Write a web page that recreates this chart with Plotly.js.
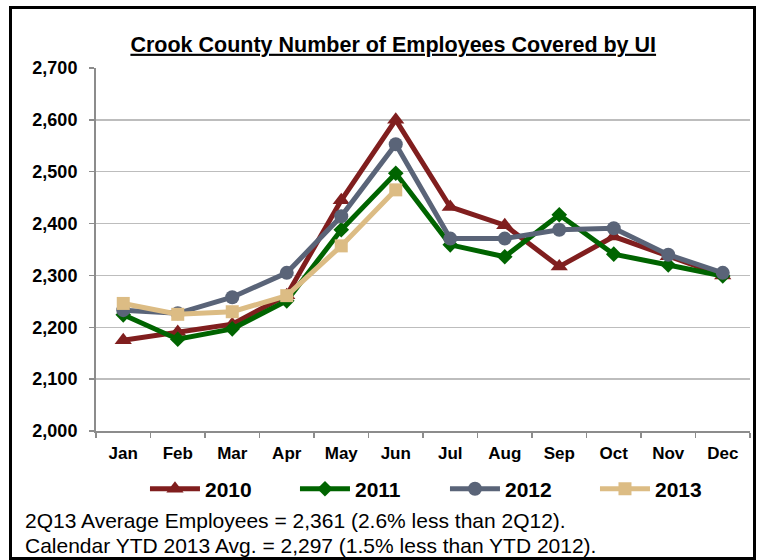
<!DOCTYPE html>
<html>
<head>
<meta charset="utf-8">
<script src="https://cdn.plot.ly/plotly-3.0.1.min.js"></script>
<style>
  html, body { margin: 0; padding: 0; background: #ffffff; }
  #wrap { position: relative; width: 762px; height: 560px; }
  #chart { width: 762px; height: 560px; }
  #frame { position: absolute; left: 9px; top: 6px; width: 741px; height: 548px;
           border: 3px solid #000; pointer-events: none; }
</style>
</head>
<body>
<div id="wrap">
  <div id="chart"></div>
  <div id="frame"></div>
</div>
<script>
const months = ["Jan","Feb","Mar","Apr","May","Jun","Jul","Aug","Sep","Oct","Nov","Dec"];
const y2010 = [2175, 2191, 2206, 2262, 2445, 2600, 2432, 2397, 2317, 2375, 2337, 2300];
const y2011 = [2224, 2177, 2197, 2251, 2388, 2497, 2359, 2336, 2417, 2341, 2320, 2299];
const y2012 = [2233, 2227, 2258, 2305, 2414, 2553, 2371, 2371, 2388, 2391, 2340, 2305];
const y2013 = [2246, 2225, 2230, 2261, 2357, 2465];
const yTicks = [2000, 2100, 2200, 2300, 2400, 2500, 2600, 2700];
const yTickLabels = ["2,000","2,100","2,200","2,300","2,400","2,500","2,600","2,700"];
const chartTitle = "Crook County Number of Employees Covered by UI";
const note1 = "2Q13 Average Employees = 2,361 (2.6% less than 2Q12).";
const note2 = "Calendar YTD 2013 Avg. = 2,297 (1.5% less than YTD 2012).";

const FONT = "Arial, 'Liberation Sans', sans-serif";

function series(name, ys, color, symbol, msize) {
  return {
    type: "scatter", mode: "lines+markers", name: name,
    x: months.slice(0, ys.length), y: ys,
    line: { color: color, width: 5 },
    marker: { color: color, symbol: symbol, size: msize, line: { width: 0 } },
    cliponaxis: false
  };
}

const data = [
  series("2010", y2010, "#801e1e", "triangle-up", 15),
  series("2011", y2011, "#006400", "diamond", 12),
  series("2012", y2012, "#5a6478", "circle", 14),
  series("2013", y2013, "#dcbc84", "square", 13)
];

const layout = {
  width: 762, height: 560,
  margin: { l: 96, r: 12, t: 68, b: 129 },
  paper_bgcolor: "#ffffff", plot_bgcolor: "#ffffff",
  font: { family: FONT, color: "#000" },
  showlegend: true,
  title: {
    text: '<span style="text-decoration:underline">' + chartTitle + '</span>',
    font: { family: FONT, size: 21.5, color: "#000", weight: "bold" },
    x: 0.4545, xref: "paper", xanchor: "center",
    y: 0.921, yref: "container", yanchor: "middle"
  },
  xaxis: {
    type: "category", categoryorder: "array", categoryarray: months,
    range: [-0.5, 11.5], fixedrange: true,
    showline: true, linecolor: "#8c8c8c", linewidth: 2,
    ticks: "outside", tickson: "boundaries", ticklen: 5, tickcolor: "#8c8c8c", tickwidth: 1.5,
    ticklabelstandoff: 6,
    showgrid: false, zeroline: false,
    tickfont: { family: FONT, size: 17, color: "#000", weight: "bold" }
  },
  yaxis: {
    range: [2000, 2700], fixedrange: true,
    tickvals: yTicks, ticktext: yTickLabels,
    showline: true, linecolor: "#8c8c8c", linewidth: 2,
    ticks: "outside", ticklen: 5, tickcolor: "#8c8c8c", tickwidth: 1.5,
    ticklabelstandoff: 8,
    showgrid: true, gridcolor: "#bdbdbd", gridwidth: 1.5,
    zeroline: false,
    tickfont: { family: FONT, size: 18, color: "#000", weight: "bold" }
  },
  legend: {
    orientation: "h", x: 0.5336, xanchor: "center", y: -0.16, yanchor: "middle",
    font: { family: FONT, size: 21, color: "#000", weight: "bold" },
    entrywidth: 85, entrywidthmode: "pixels", itemwidth: 50,
    bgcolor: "rgba(0,0,0,0)"
  },
  annotations: [
    { xref: "paper", yref: "paper", x: -0.1116, y: -0.2466, xanchor: "left", yanchor: "middle",
      text: note1, showarrow: false, font: { family: FONT, size: 21, color: "#000" } },
    { xref: "paper", yref: "paper", x: -0.1116, y: -0.3154, xanchor: "left", yanchor: "middle",
      text: note2, showarrow: false, font: { family: FONT, size: 21, color: "#000" } }
  ]
};

Plotly.newPlot("chart", data, layout, { displayModeBar: false, staticPlot: true });
</script>
</body>
</html>
